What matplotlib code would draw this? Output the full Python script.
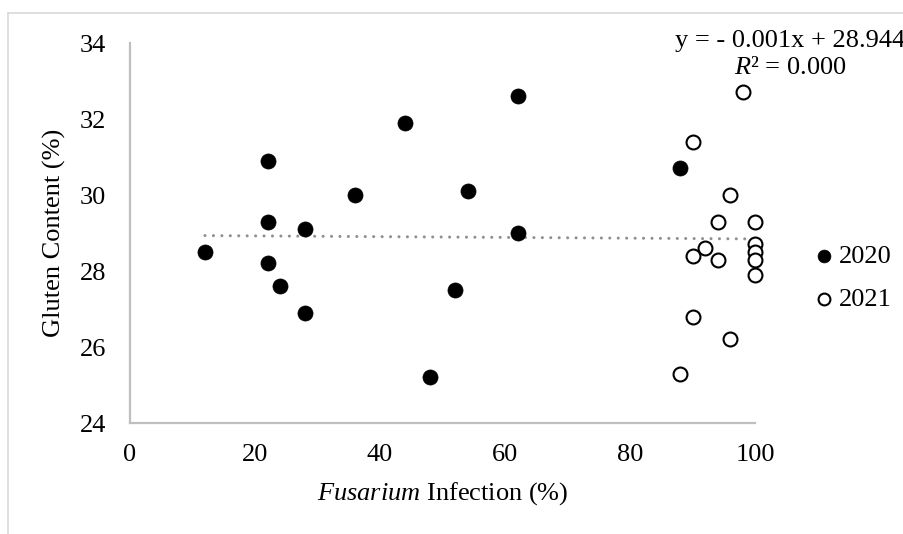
import matplotlib
matplotlib.use("Agg")
import matplotlib.pyplot as plt
from matplotlib.lines import Line2D

plt.rcParams["font.family"] = ["Liberation Serif", "DejaVu Serif"]
plt.rcParams["mathtext.fontset"] = "custom"
plt.rcParams["mathtext.rm"] = "Liberation Serif"
plt.rcParams["mathtext.it"] = "Liberation Serif:italic"

# Fusarium infection (%) vs gluten content (%), per harvest year
infection_2020 = [12, 22, 22, 22, 24, 28, 28, 36, 44, 48, 52, 54, 62, 62, 88]
gluten_2020 = [28.5, 30.9, 29.3, 28.2, 27.6, 29.1, 26.9, 30.0, 31.9, 25.2, 27.5, 30.1, 32.6, 29.0, 30.7]

infection_2021 = [98, 90, 96, 94, 100, 100, 92, 90, 94, 100, 100, 100, 90, 96, 88]
gluten_2021 = [32.7, 31.4, 30.0, 29.3, 29.3, 28.7, 28.6, 28.4, 28.3, 28.5, 28.3, 27.9, 26.8, 26.2, 25.3]

# linear trend over both years
slope = -0.001
intercept = 28.944
r_squared = 0.000

x_ticks = [0, 20, 40, 60, 80, 100]
y_ticks = [24, 26, 28, 30, 32, 34]

FS = 19

fig = plt.figure(figsize=(9.04, 5.34), dpi=100)
ax = fig.add_axes([130 / 904, 1 - 423 / 534, (755 - 130) / 904, (423 - 43) / 534])

ax.scatter(infection_2020, gluten_2020, s=118, c="black", edgecolors="black",
           linewidths=0.5, zorder=3, label="2020", clip_on=False)
ax.scatter(infection_2021, gluten_2021, s=100, facecolors="white", edgecolors="black",
           linewidths=1.5, zorder=3, label="2021", clip_on=False)

all_x = infection_2020 + infection_2021
x0, x1 = min(all_x), max(all_x)
ax.plot([x0, x1], [slope * x0 + intercept, slope * x1 + intercept],
        color="#8f8f8f", linewidth=2.2, linestyle=(0, (0.01, 2.75)),
        dash_capstyle="round", zorder=2)

ax.set_xlim(0, 100)
ax.set_ylim(24, 34)
ax.set_xticks(x_ticks)
ax.set_yticks(y_ticks)
ax.tick_params(axis="both", length=0, labelsize=FS)
ax.tick_params(axis="x", pad=15)
ax.tick_params(axis="y", pad=17)

for side in ("top", "right"):
    ax.spines[side].set_visible(False)
for side in ("left", "bottom"):
    ax.spines[side].set_color("#bfbfbf")
    ax.spines[side].set_linewidth(1.6)

ax.set_xlabel(r"$\it{Fusarium}$ Infection (%)", fontsize=FS, labelpad=10)
ax.set_ylabel("Gluten Content (%)", fontsize=FS, labelpad=10)

fig.text(790 / 904, 1 - 41 / 534, f"y = - {abs(slope):.3f}x + {intercept:.3f}",
         ha="center", va="center", fontsize=FS)
fig.text(790 / 904, 1 - 68 / 534, r"$\it{R}$" + f"² = {r_squared:.3f}",
         ha="center", va="center", fontsize=FS)

ax.legend(loc="center left", bbox_to_anchor=(811 / 904, 1 - 278 / 534),
          bbox_transform=fig.transFigure, frameon=False, fontsize=FS,
          handletextpad=0.05, labelspacing=0.75, borderaxespad=0, borderpad=0,
          markerscale=0.85, handlelength=1.0)

# light chart-area frame
fig.add_artist(Line2D([8 / 904, 1], [1 - 13 / 534, 1 - 13 / 534],
                      transform=fig.transFigure, color="#d9d9d9", linewidth=1.2))
fig.add_artist(Line2D([8 / 904, 8 / 904], [0, 1 - 13 / 534],
                      transform=fig.transFigure, color="#d9d9d9", linewidth=1.2))

fig.savefig("out.png", dpi=100)
